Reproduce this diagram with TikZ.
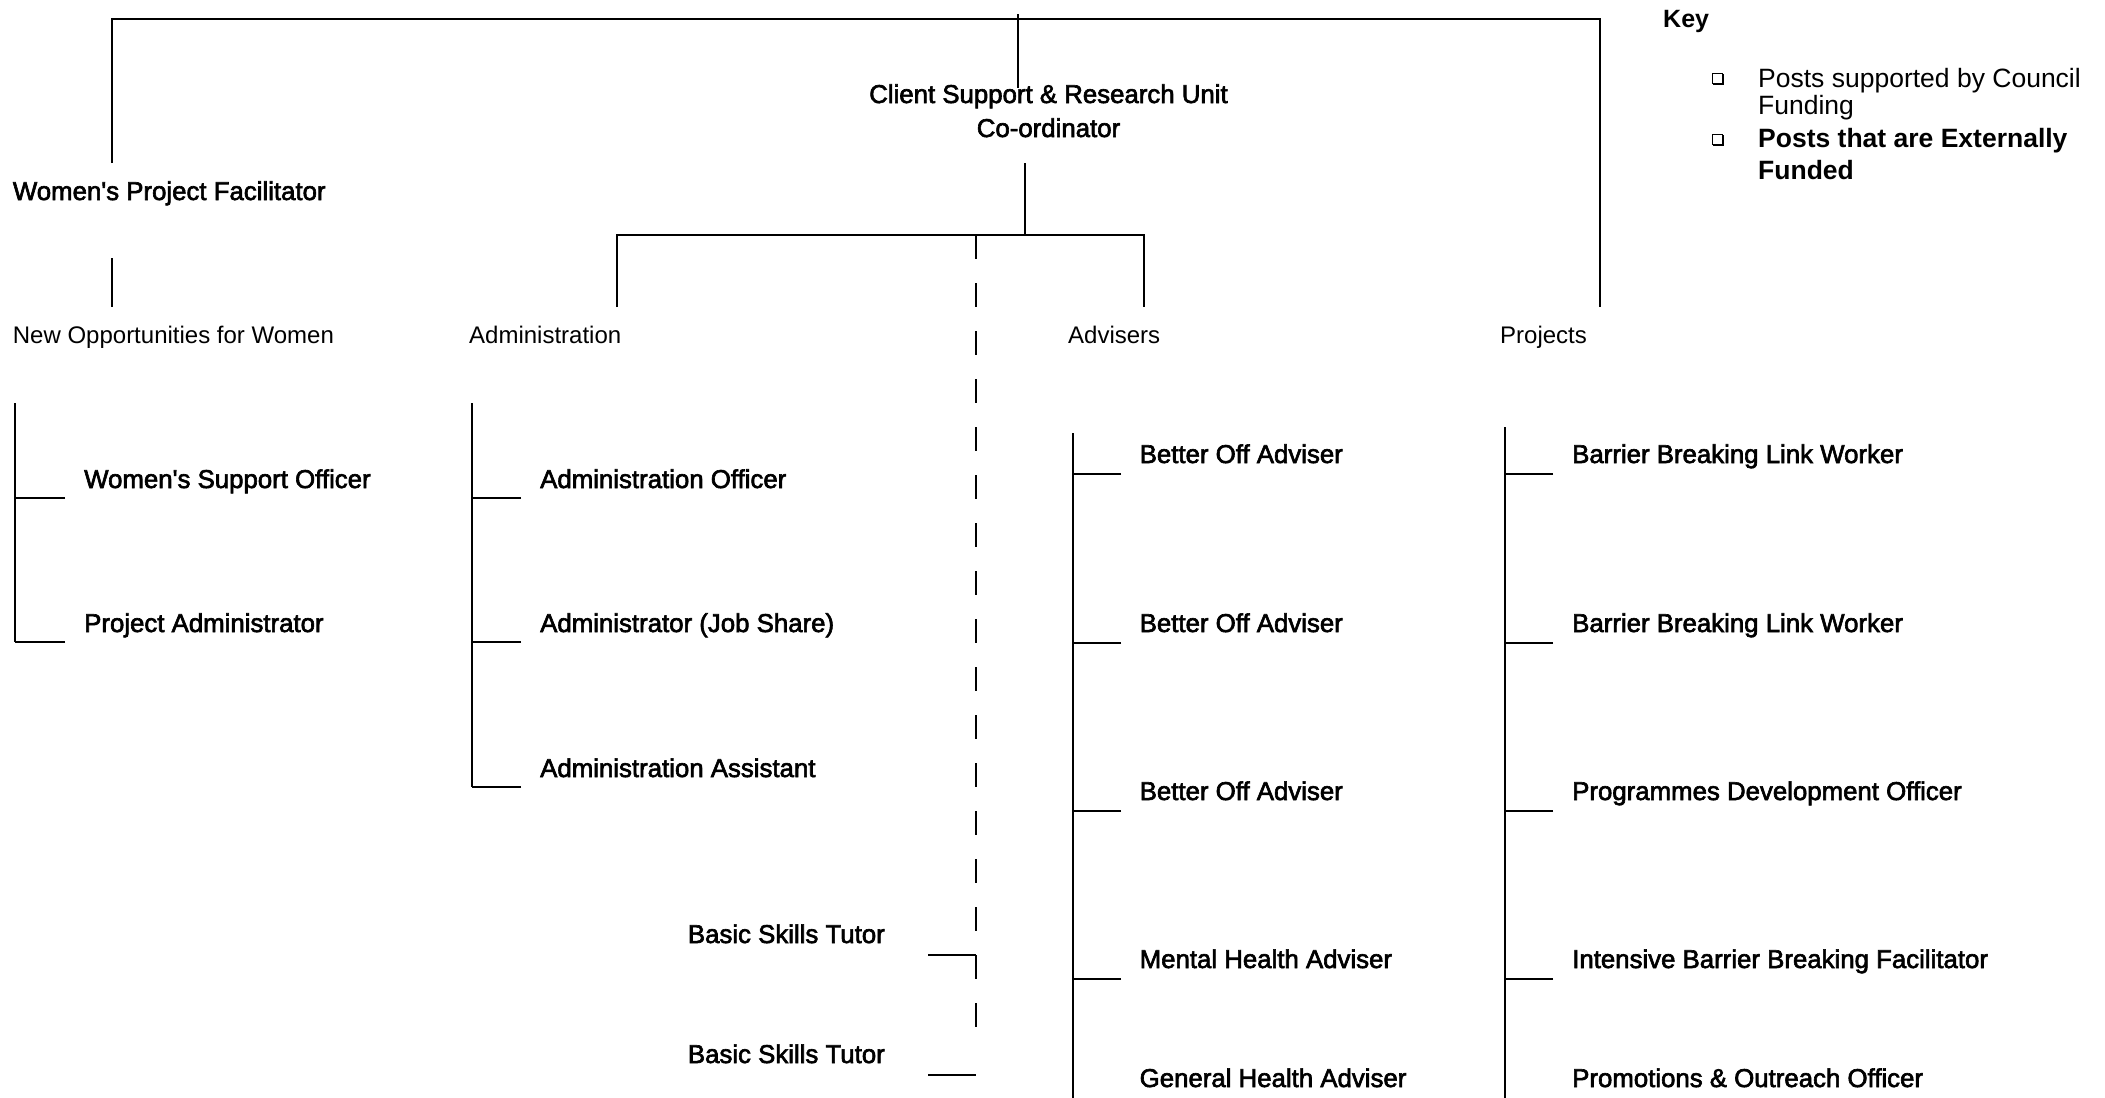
\documentclass[tikz,border=0pt]{standalone}
\usepackage{fontspec}
\setmainfont{Liberation Sans}
\newfontfamily\postfamily[FakeBold=2.4]{Liberation Sans}
\begin{document}
\begin{tikzpicture}[x=1pt,y=-1pt,
  line/.style={line width=2pt},
  tutorline/.style={line width=2pt, dash pattern=on 24pt off 24pt},
  post/.style={anchor=base west, inner sep=0pt, font=\postfamily\fontsize{25.8}{34}\selectfont},
  unit/.style={anchor=base west, inner sep=0pt, font=\fontsize{24}{29}\selectfont},
  keytext/.style={anchor=base west, inner sep=0pt, align=left},
  keybox/.style={draw, line width=1pt, minimum size=10pt, inner sep=0pt}]
\useasboundingbox (0,0) rectangle (2105,1098);

% ---- management ----
% multi-line nodes are placed by the baseline of their last line
\node[post, anchor=base, align=center] (csru) at (1048.5,137) {Client Support \& Research Unit\\Co-ordinator};
\node[post] (wpf) at (12.7,200) {Women's Project Facilitator};

% ---- sections ----
\node[unit] (now)   at (12.7,343) {New Opportunities for Women};
\node[unit] (admin) at (469,343)  {Administration};
\node[unit] (adv)   at (1068,343) {Advisers};
\node[unit] (proj)  at (1500,343) {Projects};

% ---- posts ----
\node[post] (wso) at (84,488) {Women's Support Officer};
\node[post] (pa)  at (84,632) {Project Administrator};

\node[post] (ao)  at (540,488) {Administration Officer};
\node[post] (ajs) at (540,632) {Administrator (Job Share)};
\node[post] (aa)  at (540,777) {Administration Assistant};

\node[post, anchor=base east] (bst1) at (885,943)  {Basic Skills Tutor};
\node[post, anchor=base east] (bst2) at (885,1063) {Basic Skills Tutor};

\node[post] (boa1) at (1139.5,463)  {Better Off Adviser};
\node[post] (boa2) at (1139.5,632)  {Better Off Adviser};
\node[post] (boa3) at (1139.5,800)  {Better Off Adviser};
\node[post] (mha)  at (1139.5,968)  {Mental Health Adviser};
\node[post] (gha)  at (1139.5,1087) {General Health Adviser};

\node[post] (bbl1) at (1572,463)  {Barrier Breaking Link Worker};
\node[post] (bbl2) at (1572,632)  {Barrier Breaking Link Worker};
\node[post] (pdo)  at (1572,800)  {Programmes Development Officer};
\node[post] (ibbf) at (1572,968)  {Intensive Barrier Breaking Facilitator};
\node[post] (poo)  at (1572,1087) {Promotions \& Outreach Officer};

% ---- key ----
\node[keytext, font=\bfseries\fontsize{25}{25}\selectfont] (key) at (1663,27) {Key};
\node[keybox] (boxa) at (1717,78) {};
\node[keybox] (boxb) at (1717,139) {};
\node[keytext, font=\fontsize{26.5}{27}\selectfont] (keya) at (1758,114) {Posts supported by Council\\Funding};
\node[keytext, font=\bfseries\fontsize{26.5}{32}\selectfont] (keyb) at (1758,179) {Posts that are Externally\\Funded};
\draw[line width=1.6pt] ([shift={(1.6,0.8)}]boxa.south west) -| ([shift={(0.8,1.6)}]boxa.north east);
\draw[line width=1.6pt] ([shift={(1.6,0.8)}]boxb.south west) -| ([shift={(0.8,1.6)}]boxb.north east);

% ---- upper tree ----
\coordinate (wpfIn)    at (112,163);
\coordinate (barR)     at (1600,19);
\coordinate (projIn)   at (1600,307);
\coordinate (topIn)    at (1018,14);
\coordinate (csruIn)   at (1018,88);
\coordinate (wpfOut)   at (112,258);
\coordinate (nowIn)    at (112,307);
\coordinate (csruOut)  at (1025,163);
\coordinate (branch)   at (1025,235);
\coordinate (adminIn)  at (617,307);
\coordinate (branchR)  at (1144,235);
\coordinate (advIn)    at (1144,307);
\coordinate (tutorTop) at (976,235);
\coordinate (tutorEnd) at (976,1028);

\draw[line] (wpfIn) |- (barR) -- (projIn);
\draw[line] (topIn) -- (csruIn);
\draw[line] (wpfOut) -- (nowIn);
\draw[line] (csruOut) -- (branch);
\draw[line] (adminIn) |- (branchR) -- (advIn);
\draw[tutorline] (tutorTop) -- (tutorEnd);

% ---- brackets under each section ----
\coordinate (nowSpine)   at (15,403);
\coordinate (adminSpine) at (472,403);
\coordinate (advSpine)   at (1073,433);
\coordinate (advFoot)    at (1073,1098);
\coordinate (projSpine)  at (1505,427);
\coordinate (projFoot)   at (1505,1098);

\foreach \p in {wso,pa} {
  \coordinate (\p T) at ([shift={(-19,10)}]\p.base west);
  \draw[line] (\p T) -- ++(-50,0);
}
\foreach \p in {ao,ajs,aa} {
  \coordinate (\p T) at ([shift={(-19,10)}]\p.base west);
  \draw[line] (\p T) -- ++(-49,0);
}
\foreach \p in {boa1,boa2,boa3,mha} {
  \coordinate (\p T) at ([shift={(-18.5,11)}]\p.base west);
  \draw[line] (\p T) -- ++(-49.5,0);
}
\foreach \p in {bbl1,bbl2,pdo,ibbf} {
  \coordinate (\p T) at ([shift={(-19,11)}]\p.base west);
  \draw[line] (\p T) -- ++(-49,0);
}
\foreach \p in {bst1,bst2} {
  \coordinate (\p T) at ([shift={(43,12)}]\p.base east);
  \draw[line] (\p T) -- ++(48,0);
}
\draw[line] (nowSpine) -- (nowSpine |- paT);
\draw[line] (adminSpine) -- (adminSpine |- aaT);
\draw[line] (advSpine) -- (advFoot);
\draw[line] (projSpine) -- (projFoot);
\end{tikzpicture}
\end{document}
